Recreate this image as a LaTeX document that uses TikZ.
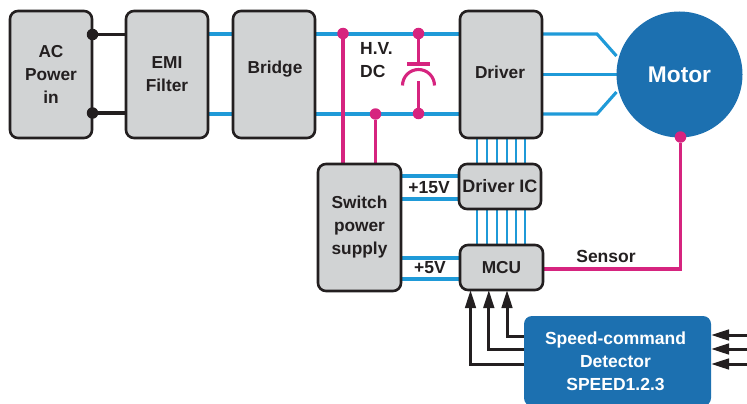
\documentclass[tikz,border=0pt]{standalone}
\usepackage{fontspec}
\setmainfont{Liberation Sans}
\usetikzlibrary{arrows.meta,calc,backgrounds}
\definecolor{boxgray}{HTML}{D1D3D4}
\definecolor{edgeblack}{HTML}{231F20}
\definecolor{busblue}{HTML}{1F9AD8}
\definecolor{pinkline}{HTML}{D6247F}
\definecolor{motorblue}{HTML}{1C70B0}
\tikzset{
  x=1pt,y=-1pt,
  graybox/.style={draw=edgeblack,fill=boxgray,line width=2.6pt,rounded corners=8pt,inner sep=0pt,outer sep=0pt,align=center,
    font=\fontsize{17.3}{23}\selectfont\bfseries,text=edgeblack},
  boxlabel/.style={font=\fontsize{17.3}{23}\selectfont\bfseries,text=edgeblack,inner sep=0pt},
  bluewire/.style={draw=busblue,line width=3.1pt},
  pinkwire/.style={draw=pinkline,line width=3.1pt},
  blackwire/.style={draw=edgeblack,line width=3.1pt},
  arrowwire/.style={draw=edgeblack,line width=3pt,-{Triangle[length=18pt,width=10.5pt]}},
  pinkdot/.style={circle,fill=pinkline,minimum size=11.5pt,inner sep=0pt,outer sep=0pt},
  blackdot/.style={circle,fill=edgeblack,minimum size=11.5pt,inner sep=0pt,outer sep=0pt},
  lbl/.style={font=\fontsize{17.5}{23}\selectfont\bfseries,text=edgeblack,inner sep=0pt,align=left},
}
\begin{document}
\begin{tikzpicture}
\useasboundingbox (0,0) rectangle (747,404);
\coordinate (bt) at (0,34);
\coordinate (bb) at (0,114);
\node[graybox,minimum width=82pt,minimum height=127pt] (ac) at (51,74.5) {AC\\Power\\in};
\node[graybox,minimum width=82pt,minimum height=127pt] (emi) at (167,74.5) {EMI\\Filter};
\node[graybox,minimum width=82pt,minimum height=127pt] (bridge) at (274,74.5) {};
\node[boxlabel] (bridgelabel) at (275,69) {Bridge};
\node[graybox,minimum width=82pt,minimum height=127pt] (driver) at (501,74.5) {};
\node[boxlabel] (driverlabel) at (500,72.5) {Driver};
\node[circle,fill=motorblue,minimum size=126pt,inner sep=0pt,outer sep=0pt,text=white,font=\fontsize{22.7}{26}\selectfont\bfseries] (motor) at (679.5,74.5) {Motor};
\node[graybox,minimum width=83pt,minimum height=127pt] (sw) at (359.5,227.5) {Switch\\power\\supply};
\node[graybox,minimum width=82pt,minimum height=45pt,font=\fontsize{18}{23}\selectfont\bfseries] (dic) at (500,186.5) {Driver IC};
\node[graybox,minimum width=83pt,minimum height=45pt] (mcu) at (501.5,267.5) {MCU};
\node[draw=none,fill=motorblue,rounded corners=8pt,minimum width=187pt,minimum height=90pt,inner sep=0pt,outer sep=0pt] (speed) at (617.5,361) {};
\node[text=white,font=\fontsize{17.5}{23.2}\selectfont\bfseries,align=center,inner sep=0pt] (speedlabel) at (615.5,361) {Speed-command\\Detector\\SPEED1.2.3};
\node[blackdot] (d1) at (92.5,34.5) {};
\node[blackdot] (d2) at (92.5,113) {};
\node[pinkdot] (p1) at (343,33.5) {};
\node[pinkdot] (p2) at (375.5,114) {};
\node[pinkdot] (p3) at (418.5,33.5) {};
\node[pinkdot] (p4) at (418.5,113.5) {};
\node[pinkdot] (p5) at (680.5,137) {};
\coordinate (ph1) at (597,34);
\coordinate (ph3) at (597,114);
\coordinate (capa) at (418.5,64);
\coordinate (capb) at (418.5,81);
\coordinate (sens) at (680.5,269);
\coordinate (a1) at (470.5,364);
\coordinate (a2) at (488.8,349);
\coordinate (a3) at (507,336);
\begin{pgfonlayer}{background}
\draw[blackwire] (d1) -- (d1 -| emi.west);
\draw[blackwire] (d2) -- (d2 -| emi.west);
\foreach \c in {bt,bb}{
  \draw[bluewire] (emi.east |- \c) -- (bridge.west |- \c);
  \draw[bluewire] (bridge.east |- \c) -- (driver.west |- \c);
}
\draw[bluewire] (driver.east |- ph1) -- (ph1) -- (motor.west |- 0,56);
\draw[bluewire] (driver.east |- motor.west) -- (motor.west);
\draw[bluewire] (driver.east |- ph3) -- (ph3) -- (motor.west |- 0,92);
\foreach \x in {477,487,497,507,516,525}{
  \coordinate (bus) at (\x,150);
  \draw[bluewire,line width=2.7pt] (bus |- driver.south) -- (bus |- dic.north);
  \draw[bluewire,line width=2.7pt] (bus |- dic.south) -- (bus |- mcu.north);
}
\foreach \y in {176,199}{\draw[bluewire] (sw.east |- 0,\y) -- (dic.west |- 0,\y);}
\foreach \y in {258,279}{\draw[bluewire] (sw.east |- 0,\y) -- (mcu.west |- 0,\y);}
\draw[pinkwire] (p1) -- (p1 |- sw.north);
\draw[pinkwire] (p2) -- (p2 |- sw.north);
\draw[pinkwire] (mcu.east |- sens) -- (sens) -- (p5);
\end{pgfonlayer}
% capacitor
\draw[pinkwire] (p3) -- (capa);
\draw[pinkwire] (p4) -- (capb);
\draw[pinkwire] ($(capa)+(-11.5,0)$) -- ($(capa)+(11.5,0)$);
\draw[pinkwire] (402.5,85.5) arc[start angle=180,end angle=360,radius=16];
% arrows
\draw[arrowwire] (speed.west |- a1) -- (a1) -- (a1 |- mcu.south);
\draw[arrowwire] (speed.west |- a2) -- (a2) -- (a2 |- mcu.south);
\draw[arrowwire] (speed.west |- a3) -- (a3) -- (a3 |- mcu.south);
\foreach \y/\n in {335/r1,349/r2,364/r3}{
  \coordinate (\n) at (747,\y);
  \draw[arrowwire] (\n) -- (\n -| speed.east);
}
% labels
\node[lbl,anchor=west] (hv) at (360,48) {H.V.};
\node[lbl,anchor=west] (dc) at (360,71) {DC};
\node[lbl] (v15) at (429,188) {+15V};
\node[lbl] (v5) at (430,268) {+5V};
\node[lbl] (sn) at (606,256) {Sensor};
\end{tikzpicture}
\end{document}
